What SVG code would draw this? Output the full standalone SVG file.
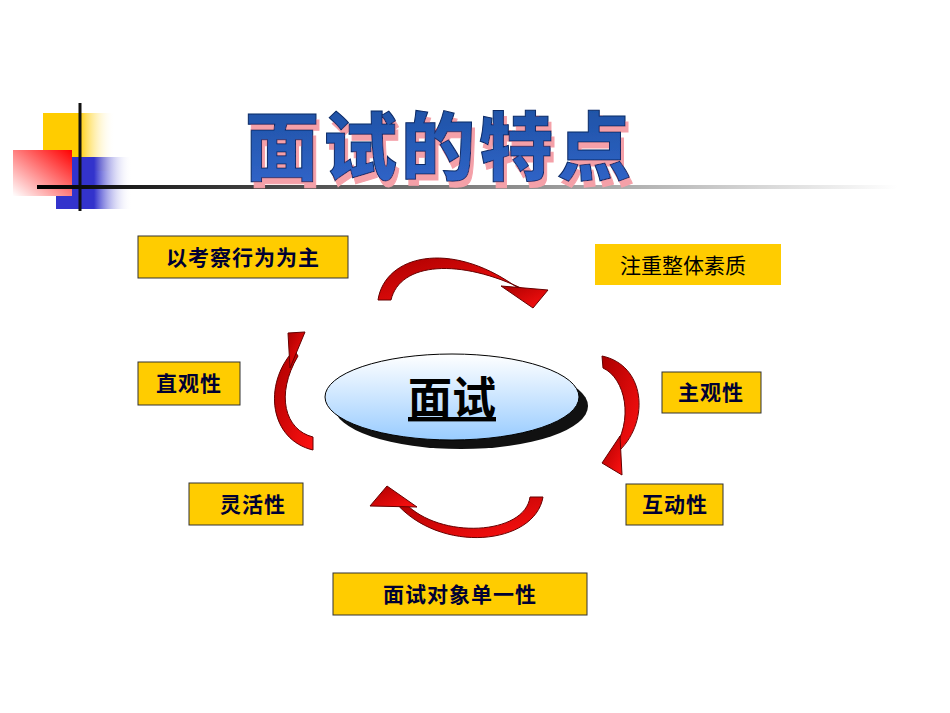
<svg xmlns="http://www.w3.org/2000/svg" width="950" height="713" viewBox="0 0 950 713">
<style>
.box{fill:#FFCC00;stroke:#333;stroke-width:1}
.lbl{font-family:"Noto Sans CJK SC",sans-serif;font-size:21px;font-weight:bold;fill:#000033;text-anchor:middle;letter-spacing:1px}
.arr{fill:url(#rg);stroke:#660000;stroke-width:1}
</style>
<defs>
<linearGradient id="yg" x1="0" x2="1"><stop offset="0" stop-color="#FFCC00"/><stop offset="0.5" stop-color="#FFCC00"/><stop offset="1" stop-color="#fff" stop-opacity="0"/></linearGradient>
<linearGradient id="redg" x1="1" y1="0" x2="0" y2="1"><stop offset="0" stop-color="#ff0000"/><stop offset="1" stop-color="#fff"/></linearGradient>
<linearGradient id="bg" x1="0" x2="1"><stop offset="0" stop-color="#3333cc"/><stop offset="0.5" stop-color="#3333cc"/><stop offset="1" stop-color="#fff" stop-opacity="0"/></linearGradient>
<linearGradient id="lg" x1="0" x2="1"><stop offset="0" stop-color="#000"/><stop offset="1" stop-color="#fff"/></linearGradient>
<linearGradient id="rg" x1="0" y1="0" x2="1" y2="1"><stop offset="0" stop-color="#aa0000"/><stop offset="1" stop-color="#ff1111"/></linearGradient>
<linearGradient id="eg" x1="0" y1="0" x2="0" y2="1"><stop offset="0" stop-color="#fff"/><stop offset="1" stop-color="#99ccff"/></linearGradient>
<linearGradient id="tg" x1="0" y1="0" x2="0" y2="1"><stop offset="0" stop-color="#1a4f9e"/><stop offset="1" stop-color="#3366cc"/></linearGradient>
<filter id="sh" x="-10%" y="-20%" width="120%" height="150%"><feOffset in="SourceAlpha" dx="3" dy="6" result="o"/><feFlood flood-color="#f4a0a8"/><feComposite in2="o" operator="in" result="s"/><feMerge><feMergeNode in="s"/><feMergeNode in="SourceGraphic"/></feMerge></filter>
</defs>
<g id="decor">
<rect x="43" y="113" width="72" height="58" fill="url(#yg)"/>
<rect x="56" y="157" width="76" height="52" fill="url(#bg)"/>
<rect x="13" y="150" width="59" height="46" fill="url(#redg)"/>
<line x1="80" y1="103" x2="80" y2="211" stroke="#111" stroke-width="3"/>
<rect x="37" y="185" width="860" height="4" fill="url(#lg)"/>
</g>
<g id="title">
<text x="440" y="174" filter="url(#sh)" font-family="Noto Sans CJK SC,sans-serif" font-size="74" font-weight="900" fill="url(#tg)" stroke="#0b2a66" stroke-width="1" text-anchor="middle" letter-spacing="4">面试的特点</text>
</g>
<g id="connectors">
<path class="arr" d="M378,300 C385,255 450,240 515,286 L525,290 C460,258 400,262 391,300 Z"/>
<polygon class="arr" points="501,286 548,290 533,308"/>
<path class="arr" d="M602,356 C645,365 650,420 620,450 L612,452 C635,420 625,378 603,368 Z"/>
<polygon class="arr" points="620,436 622,475 602,463"/>
<path class="arr" d="M313,450 C270,440 262,385 294,350 L298,356 C275,395 285,430 313,437 Z"/>
<polygon class="arr" points="288,333 305,332 290,368"/>
<path class="arr" d="M543,497 C535,545 440,555 395,502 L405,503 C440,540 525,535 530,497 Z"/>
<polygon class="arr" points="387,486 417,507 370,506"/>
</g>
<g id="center">
<ellipse cx="461" cy="406" rx="127" ry="43" fill="#111"/>
<ellipse cx="452" cy="397" rx="127" ry="43" fill="url(#eg)" stroke="#000" stroke-width="1"/>
<text x="452" y="414" font-family="Noto Sans CJK SC,sans-serif" font-size="44" font-weight="bold" text-anchor="middle" fill="#000" text-decoration="underline">面试</text>
</g>
<g id="n1"><rect class="box" x="138" y="236" width="210" height="42"/><text class="lbl" x="243" y="265">以考察行为为主</text></g>
<g id="n2"><rect x="595" y="244" width="186" height="41" fill="#FFCC00"/><text x="683" y="273" font-family="Noto Sans CJK SC,sans-serif" font-size="21" fill="#000" text-anchor="middle">注重整体素质</text></g>
<g id="n3"><rect class="box" x="138" y="362" width="102" height="43"/><text class="lbl" x="189" y="391">直观性</text></g>
<g id="n4"><rect class="box" x="662" y="372" width="99" height="41"/><text class="lbl" x="711" y="400">主观性</text></g>
<g id="n5"><rect class="box" x="189" y="483" width="114" height="42"/><text class="lbl" x="253" y="512">灵活性</text></g>
<g id="n6"><rect class="box" x="626" y="484" width="97" height="41"/><text class="lbl" x="675" y="512">互动性</text></g>
<g id="n7"><rect class="box" x="333" y="573" width="254" height="42"/><text class="lbl" x="460" y="602">面试对象单一性</text></g>
</svg>
